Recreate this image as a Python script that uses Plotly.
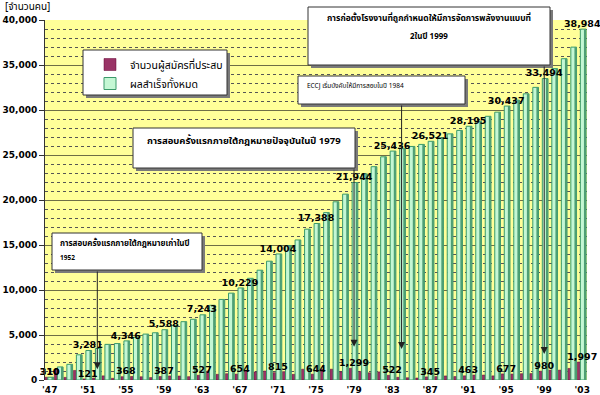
import plotly.graph_objects as go

# ---------------- data ----------------
years = list(range(1947, 2004))
passed = [310, 1140, 290, 1060, 121, 220, 460, 190, 368, 390,
          360, 270, 387, 450, 440, 370, 527, 1000, 630, 700,
          654, 1070, 900, 1000, 815, 930, 630, 1200, 644, 1200,
          1200, 900, 1299, 950, 800, 900, 522, 300, 250, 226,
          345, 380, 450, 382, 463, 550, 550, 460, 677, 660,
          700, 714, 980, 1100, 1100, 1287, 1997]
total = [310, 1450, 1740, 2800, 3281, 3500, 3960, 4050, 4346, 4740,
         5100, 5250, 5588, 6040, 6480, 6750, 7243, 8300, 8950, 9650,
         10229, 11300, 12200, 13200, 14004, 14930, 15560, 16760, 17388, 18600,
         19800, 20650, 21944, 22900, 23700, 24800, 25436, 25700, 25950, 26176,
         26521, 26900, 27350, 27732, 28195, 28750, 29300, 29760, 30437, 31100,
         31800, 32514, 33494, 34600, 35700, 36987, 38984]
label_years = list(range(1947, 2004, 4))
tick_text = ["'47", "'51", "'55", "'59", "'63", "'67", "'71", "'75",
             "'79", "'83", "'87", "'91", "'95", "'99", "'03"]
series_names = ["จำนวนผู้สมัครที่ประสบ", "ผลสำเร็จทั้งหมด"]
y_title = "[จำนวนคน]"
event_years = [1952, 1979, 1984, 1999]
event_tip = [1200, 3700, 3450, 2900]
event_lines = [
    ["การสอบครั้งแรกภายใต้กฎหมายเก่าในปี", "1952"],
    ["การสอบครั้งแรกภายใต้กฎหมายปัจจุบันในปี 1979"],
    ["ECCJ เริ่มบังคับให้มีการสอบในปี 1984"],
    ["การก่อตั้งโรงงานที่ถูกกำหนดให้มีการจัดการพลังงานแบบที่", "2ในปี 1999"],
]

# ---------------- layout helpers ----------------
W, H = 600, 395
L, R, T, B = 45, 13, 20, 15
PW, PH = W - L - R, H - T - B


def px(x):
    return (x - L) / PW


def py(y):
    return (H - B - y) / PH


def yval(y):
    return (H - B - y) / PH * 40000


NUM_FONT = "DejaVu Sans"
THAI_FONT = "Noto Sans Thai, Tahoma, DejaVu Sans, sans-serif"

idx = [years.index(y) for y in label_years]
lab_passed = [passed[i] for i in idx]
lab_total = [total[i] for i in idx]

fig = go.Figure()
fig.add_trace(go.Bar(
    x=years, y=passed, name=series_names[0],
    width=0.32, offset=-0.52,
    marker=dict(color="#993366", line=dict(color="#660033", width=0.5)),
))
fig.add_trace(go.Bar(
    x=years, y=total, name=series_names[1],
    width=0.6, offset=-0.2,
    marker=dict(color="#C4F7D4", line=dict(color="#3A9A6A", width=1)),
))
# darker right side of the green columns (cylinder shading)
fig.add_trace(go.Bar(
    x=years, y=total, showlegend=False, hoverinfo="skip",
    width=0.22, offset=0.18,
    marker=dict(color="#4E9F74", line=dict(width=0)),
))
# value labels
fig.add_trace(go.Scatter(
    x=label_years, y=lab_total, mode="text", showlegend=False, hoverinfo="skip",
    text=[f"{v:,}" for v in lab_total], textposition="top center", cliponaxis=False,
    textfont=dict(family=NUM_FONT, size=9.5, color="black", weight="bold"),
))
fig.add_trace(go.Scatter(
    x=label_years, y=lab_passed, mode="text", showlegend=False, hoverinfo="skip",
    text=[f"{v:,}" for v in lab_passed], textposition="top center", cliponaxis=False,
    textfont=dict(family=NUM_FONT, size=9.5, color="black", weight="bold"),
))

shapes = []
boxes = [
    (52, 233, 202, 270),
    (133, 128, 355, 168),
    (298, 76, 465, 104),
    (308, 7, 550, 65),
]
legend_box = (83, 50, 227, 95)
for (x0, y0, x1, y1) in [legend_box] + boxes:
    shapes.append(dict(type="rect", xref="paper", yref="paper",
                       x0=px(x0 + 3), x1=px(x1 + 3), y0=py(y1 + 3), y1=py(y0 + 3),
                       fillcolor="#7a7a7a", line=dict(width=0)))
    shapes.append(dict(type="rect", xref="paper", yref="paper",
                       x0=px(x0), x1=px(x1), y0=py(y1), y1=py(y0),
                       fillcolor="white", line=dict(color="#333", width=1)))

annotations = [dict(
    text=y_title, xref="paper", yref="paper", x=px(3), y=py(7),
    xanchor="left", yanchor="middle", showarrow=False,
    font=dict(family=THAI_FONT, size=10, color="black"),
)]

# arrows from boxes to bars
for i, yr in enumerate(event_years):
    bx = boxes[i]
    annotations.append(dict(
        x=yr, y=event_tip[i], xref="x", yref="y",
        ax=yr, ay=yval(bx[3]), axref="x", ayref="y",
        text="", showarrow=True, arrowhead=2, arrowsize=1.4,
        arrowwidth=1, arrowcolor="#222",
    ))

# box texts
b = boxes[0]
annotations.append(dict(text="<b>" + event_lines[0][0] + "</b>", xref="paper", yref="paper",
                        x=px(b[0] + 6), y=py(243), xanchor="left", yanchor="middle",
                        showarrow=False, font=dict(family=THAI_FONT, size=8, color="black")))
annotations.append(dict(text="<b>" + event_lines[0][1] + "</b>", xref="paper", yref="paper",
                        x=px(b[0] + 6), y=py(258), xanchor="left", yanchor="middle",
                        showarrow=False, font=dict(family=THAI_FONT, size=6.5, color="black")))
b = boxes[1]
annotations.append(dict(text="<b>" + event_lines[1][0] + "</b>", xref="paper", yref="paper",
                        x=px((b[0] + b[2]) / 2), y=py(141), xanchor="center", yanchor="middle",
                        showarrow=False, font=dict(family=THAI_FONT, size=9.5, color="black")))
b = boxes[2]
annotations.append(dict(text=event_lines[2][0], xref="paper", yref="paper",
                        x=px(b[0] + 7), y=py(86), xanchor="left", yanchor="middle",
                        showarrow=False, font=dict(family=THAI_FONT, size=6.5, color="black")))
b = boxes[3]
annotations.append(dict(text="<b>" + event_lines[3][0] + "</b>", xref="paper", yref="paper",
                        x=px((b[0] + b[2]) / 2), y=py(18), xanchor="center", yanchor="middle",
                        showarrow=False, font=dict(family=THAI_FONT, size=8.5, color="black")))
annotations.append(dict(text="<b>" + event_lines[3][1] + "</b>", xref="paper", yref="paper",
                        x=px((b[0] + b[2]) / 2), y=py(37), xanchor="center", yanchor="middle",
                        showarrow=False, font=dict(family=THAI_FONT, size=8, color="black")))

fig.update_layout(
    width=W, height=H,
    margin=dict(l=L, r=R, t=T, b=B, pad=0),
    paper_bgcolor="white", plot_bgcolor="#FFFF99",
    barmode="overlay",
    showlegend=True,
    legend=dict(x=px(90), y=py(50), xanchor="left", yanchor="top",
                bgcolor="rgba(0,0,0,0)", borderwidth=0,
                font=dict(family=THAI_FONT, size=10.5, color="black"),
                tracegroupgap=0, itemwidth=30),
    shapes=shapes, annotations=annotations,
    xaxis=dict(range=[1946.5, 2003.5], tickmode="array", tickvals=label_years,
               ticktext=tick_text, showgrid=False, zeroline=False, showline=False,
               ticks="", automargin=False, ticklabelstandoff=3,
               tickfont=dict(family=NUM_FONT, size=9, color="black", weight="bold"),
               fixedrange=True),
    yaxis=dict(range=[0, 40000], tickmode="linear", tick0=0, dtick=5000,
               tickformat=",d", showgrid=True, gridcolor="#6e6e46", gridwidth=1,
               zeroline=False, showline=True, linecolor="#333", linewidth=1,
               ticks="outside", ticklen=5, tickcolor="#333", automargin=False,
               minor=dict(dtick=1000, showgrid=True, gridcolor="#555555",
                          griddash="dot", gridwidth=1, ticks=""),
               tickfont=dict(family=NUM_FONT, size=9, color="black", weight="bold"),
               fixedrange=True),
)

fig.write_html("out.html", config={"displayModeBar": False},
               post_script="document.body.style.margin='0';document.body.style.padding='0';")
